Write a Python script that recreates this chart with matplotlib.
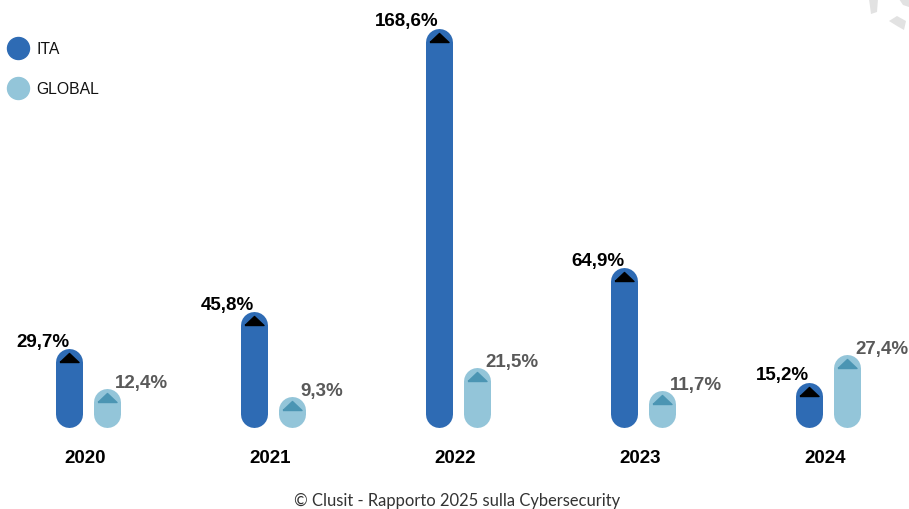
import matplotlib
matplotlib.use("Agg")
import matplotlib.pyplot as plt
import numpy as np
from matplotlib.patches import Polygon

years = ["2020", "2021", "2022", "2023", "2024"]
ita = [29.7, 45.8, 168.6, 64.9, 15.2]
glob = [12.4, 9.3, 21.5, 11.7, 27.4]
ita_labels = ["29,7%", "45,8%", "168,6%", "64,9%", "15,2%"]
glob_labels = ["12,4%", "9,3%", "21,5%", "11,7%", "27,4%"]
series_names = ["ITA", "GLOBAL"]

C_ITA = "#2e6bb4"
C_GLOB = "#93c5d9"
C_GLOB_TRI = "#4b95b3"
C_GLOB_TXT = "#595959"

plt.rcParams["font.family"] = ["Liberation Sans", "DejaVu Sans"]

W, H, DPI = 909, 510, 100
fig = plt.figure(figsize=(W / DPI, H / DPI), dpi=DPI)
ax = fig.add_axes([0, 0, 1, 1])
ax.set_axis_off()

px_per_x = 185.0
x0_px = 85.0
ax.set_xlim(-x0_px / px_per_x, (W - x0_px) / px_per_x)
px_per_y = 2.31
y0_px_from_bottom = H - 432
ax.set_ylim(-y0_px_from_bottom / px_per_y, (H - y0_px_from_bottom) / px_per_y)

bar_px = 27
lw_pt = bar_px * 72 / DPI
base = 7.5
off_ita = -16 / px_per_x
off_glob = 22 / px_per_x

tri = [(-1, 0), (1, 0), (0, 0.95), (-1, 0)]
tri_ms = 19 * 72 / DPI

x = np.arange(len(years))
for i in range(len(years)):
    xi = x[i] + off_ita
    xg = x[i] + off_glob
    ax.plot([xi, xi], [base, ita[i]], color=C_ITA, lw=lw_pt, solid_capstyle="round")
    ax.plot([xg, xg], [base, glob[i]], color=C_GLOB, lw=lw_pt, solid_capstyle="round")
    ax.plot([xi], [ita[i]], marker=tri, ms=tri_ms, color="black", ls="")
    ax.plot([xg], [glob[i]], marker=tri, ms=tri_ms, color=C_GLOB_TRI, ls="")
    ax.annotate(ita_labels[i], xy=(xi, ita[i]), xytext=(0, 16.5 * 72 / DPI),
                textcoords="offset points", ha="right", va="baseline",
                fontsize=13.5, fontweight="bold", color="black")
    ax.annotate(glob_labels[i], xy=(xg, glob[i]), xytext=(8 * 72 / DPI, 15 * 72 / DPI),
                textcoords="offset points", ha="left", va="baseline",
                fontsize=13.5, fontweight="bold", color=C_GLOB_TXT)
    ax.text(x[i], 1 - 463 / H, years[i], transform=ax.get_xaxis_transform(),
            ha="center", va="baseline", fontsize=13.5, fontweight="bold", color="black")

# legend
for k, (name, col) in enumerate(zip(series_names, [C_ITA, C_GLOB])):
    yy = 1 - (49 + 40 * k) / H
    ax.plot([18 / W], [yy], marker="o", ms=22 * 72 / DPI, color=col, ls="",
            transform=fig.transFigure, clip_on=False)
    fig.text(36 / W, yy, name, ha="left", va="center", fontsize=11.3, color="#111111")

# footer
fig.text(0.503, 1 - 501 / H, "\u00a9 Clusit - Rapporto 2025 sulla Cybersecurity",
         ha="center", va="center", fontsize=11.9, color="#333333",
         family=["Lato", "DejaVu Sans"])

# decorative map fragments (top-right corner)
for pts in ([(869, 0), (878, 0), (877, 13), (871, 15)],
            [(889, 22), (897, 17), (906, 22), (904, 31), (897, 27)],
            [(899, 0), (909, 0), (909, 8), (903, 6)]):
    fig.add_artist(Polygon([(px / W, 1 - py / H) for px, py in pts],
                           closed=True, transform=fig.transFigure,
                           color="#e2e2e2", lw=0))

fig.savefig("out.png", dpi=DPI)
